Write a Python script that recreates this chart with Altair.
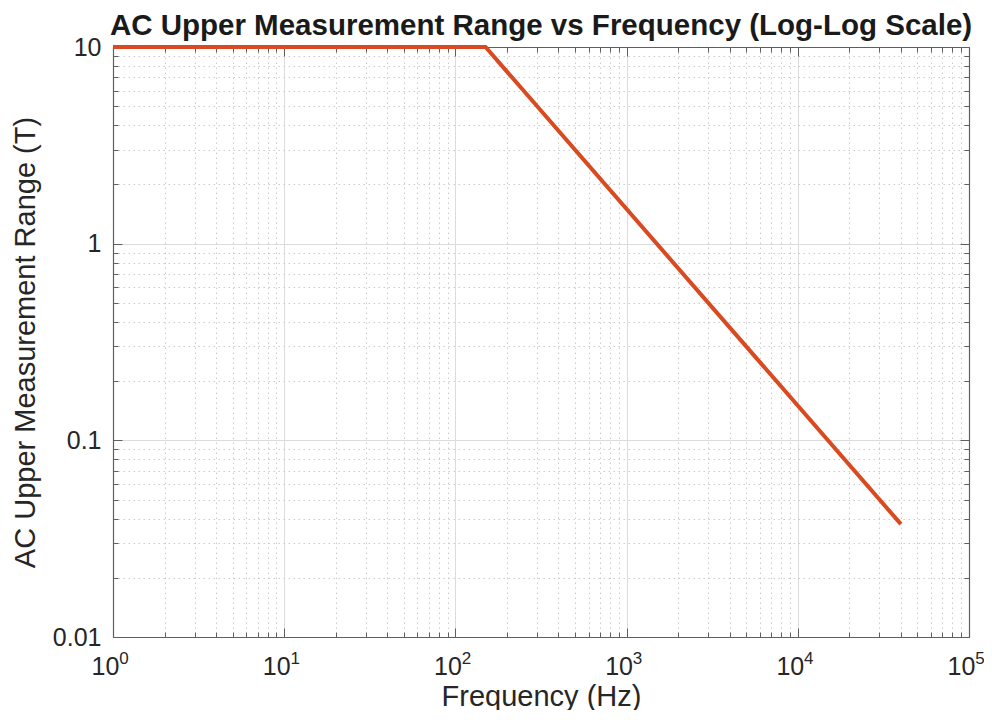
import altair as alt
import pandas as pd

# ---- data ----
freq_hz = [1, 150, 40000]
range_t = [10, 10, 0.0375]

x_major = [1, 10, 100, 1000, 10000, 100000]
x_exponents = ["0", "1", "2", "3", "4", "5"]
x_minor = [m * 10 ** d for d in range(5) for m in range(2, 10)]
y_major = [0.01, 0.1, 1, 10]
y_minor = [round(m * 10.0 ** d, 6) for d in range(-2, 1) for m in range(2, 10)]

df = pd.DataFrame({"f": freq_hz, "B": range_t})

W, H = 856, 590
FONT = "Liberation Sans"
TXT = "#262626"
AX = "#5f5f5f"
LINE = "#D94A20"

xs = alt.Scale(type="log", domain=[1, 100000], nice=False)
ys = alt.Scale(type="log", domain=[0.01, 10], nice=False)

exp_list = "[" + ",".join("'%s'" % e for e in x_exponents) + "]"
x_exp_expr = exp_list + "[round(log(datum.value)/LN10)]"
y_label_expr = "format(datum.value, '~g')"


def layer(xaxis, yaxis, visible=False):
    mark = alt.Chart(df).mark_line(
        color=LINE, strokeWidth=4, opacity=1 if visible else 0, clip=False
    )
    return mark.encode(
        x=alt.X("f:Q", scale=xs, axis=xaxis),
        y=alt.Y("B:Q", scale=ys, axis=yaxis),
    )


def plain(**kw):
    base = dict(labels=False, domain=False, grid=False, ticks=False, title=None)
    base.update(kw)
    return alt.Axis(**base)


# minor dotted grid
minor_grid = layer(
    plain(orient="bottom", values=x_minor, grid=True, gridColor="#cccccc",
          gridDash=[1.5, 3.5], gridWidth=1),
    plain(orient="left", values=y_minor, grid=True, gridColor="#cccccc",
          gridDash=[1.5, 3.5], gridWidth=1),
)

# inward ticks: bottom & left (major + minor)
ticks_bl_major = layer(
    plain(orient="top", offset=-H, values=x_major, ticks=True, tickSize=9,
          tickColor=AX, tickWidth=1),
    plain(orient="right", offset=-W, values=y_major, ticks=True, tickSize=9,
          tickColor=AX, tickWidth=1),
)
ticks_bl_minor = layer(
    plain(orient="top", offset=-H, values=x_minor, ticks=True, tickSize=5,
          tickColor=AX, tickWidth=1),
    plain(orient="right", offset=-W, values=y_minor, ticks=True, tickSize=5,
          tickColor=AX, tickWidth=1),
)
# inward ticks: top & right, plus the box border
ticks_tr_major = layer(
    plain(orient="bottom", offset=-H, values=x_major, ticks=True, tickSize=9,
          tickColor=AX, tickWidth=1, domain=True, domainColor=AX, domainWidth=1.2),
    plain(orient="left", offset=-W, values=y_major, ticks=True, tickSize=9,
          tickColor=AX, tickWidth=1, domain=True, domainColor=AX, domainWidth=1.2),
)
ticks_tr_minor = layer(
    plain(orient="bottom", offset=-H, values=x_minor, ticks=True, tickSize=5,
          tickColor=AX, tickWidth=1),
    plain(orient="left", offset=-W, values=y_minor, ticks=True, tickSize=5,
          tickColor=AX, tickWidth=1),
)

# superscript exponents of the x tick labels
x_exp = layer(
    plain(orient="bottom", values=x_major, labels=True, labelExpr=x_exp_expr,
          tickSize=0, labelFont=FONT, labelFontSize=17, labelColor=TXT,
          labelBaseline="alphabetic", labelPadding=26, labelOffset=10.5,
          labelFlush=False, labelOverlap=False, labelBound=False),
    None,
)

# main axes with labels, major solid grid and the data line
main = layer(
    alt.Axis(orient="bottom", values=x_major, labelExpr="'10'",
             grid=True, gridColor="#dcdcdc", gridWidth=1, ticks=False, tickSize=0,
             domain=True, domainColor=AX, domainWidth=1.2,
             labelFont=FONT, labelFontSize=25, labelColor=TXT,
             labelBaseline="alphabetic", labelPadding=37, labelOffset=-8,
             labelFlush=False, labelOverlap=False, labelBound=False,
             title="Frequency (Hz)", titleFont=FONT, titleFontSize=29,
             titleFontWeight="normal", titleColor=TXT, titlePadding=3),
    alt.Axis(orient="left", values=y_major, labelExpr=y_label_expr,
             grid=True, gridColor="#dcdcdc", gridWidth=1, ticks=False, tickSize=0,
             domain=True, domainColor=AX, domainWidth=1.2,
             labelFont=FONT, labelFontSize=25, labelColor=TXT, labelPadding=12,
             labelFlush=False, labelOverlap=False, labelBound=False,
             title="AC Upper Measurement Range (T)", titleFont=FONT,
             titleFontSize=29, titleFontWeight="normal", titleColor=TXT,
             titlePadding=12),
    visible=True,
)

chart = (
    alt.layer(minor_grid, ticks_bl_major, ticks_bl_minor, ticks_tr_major,
              ticks_tr_minor, x_exp, main)
    .resolve_scale(x="shared", y="shared")
    .resolve_axis(x="independent", y="independent")
    .properties(
        width=W,
        height=H,
        title=alt.TitleParams(
            "AC Upper Measurement Range vs Frequency (Log-Log Scale)",
            font=FONT, fontSize=29.5, fontWeight="bold", color="#1a1a1a",
            anchor="middle", frame="group", offset=6, dy=12,
        ),
        padding={"left": 105, "top": 39, "right": 15, "bottom": 73},
        autosize=alt.AutoSizeParams(type="none"),
    )
    .configure_view(stroke=None)
    .configure(background="white")
)

chart.save("out.html", embed_options={"renderer": "svg", "actions": False})
